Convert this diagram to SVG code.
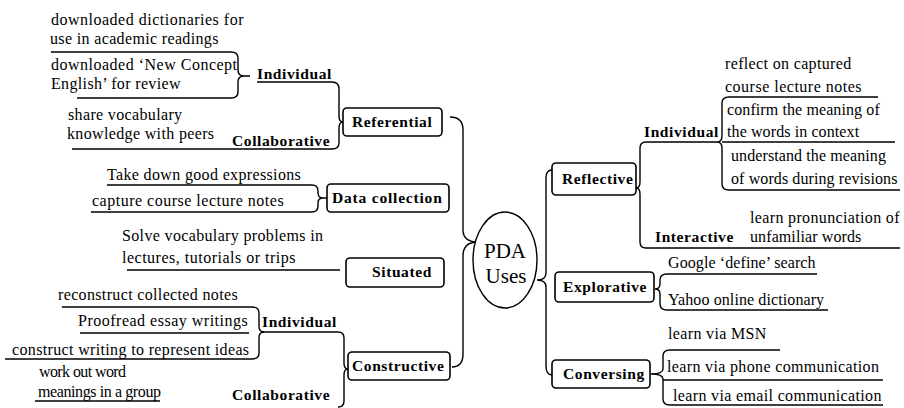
<svg xmlns="http://www.w3.org/2000/svg" width="904" height="408" viewBox="0 0 904 408">
<style>
text{font-family:'Liberation Serif','Times New Roman',serif;fill:#000}
.t{font-size:16px;letter-spacing:0.35px}
.w{letter-spacing:0.5px}
.n{letter-spacing:0.1px}
.b{font-size:15.5px;font-weight:bold;letter-spacing:0.6px}
.c{font-size:21px}
.box{fill:#fff;stroke:#000;stroke-width:1.6}
.ln{fill:none;stroke:#000;stroke-width:1.4}
</style>
<rect width="904" height="408" fill="#fff"/>
<g id="connectors">
<path class="ln" d="M450,117 Q463,117 463,130 L463,230 Q463,241 476,242 Q463,243 463,256 L463,354 Q463,367 452,367"/>
<path class="ln" d="M552,170 Q546,170 546,178 L546,273 Q546,280 537,280 Q546,280 546,287 L546,366 Q546,375 552,375"/>
</g>
<g id="center">
<ellipse cx="505" cy="260" rx="32" ry="48" fill="#fff" stroke="#000" stroke-width="1.4"/>
<text class="c" x="505" y="258" text-anchor="middle">PDA</text>
<text class="c" x="506" y="283" text-anchor="middle">Uses</text>
</g>
<g id="referential">
<rect class="box" x="343" y="108" width="99" height="28" rx="4"/>
<text class="b" x="352" y="127">Referential</text>
<path class="ln" d="M257,82 L332,82 Q339,82 339,89 L339,116 Q339,122 343,122 Q339,122 339,128 L339,143 Q339,149 332,149 L72,149"/>
<text class="b" x="257" y="79">Individual</text>
<text class="b" x="232" y="146">Collaborative</text>
<path class="ln" d="M51,52 L231,52 Q238,52 238,58 L238,70 Q238,76 244,76 L250,76 M244,76 Q238,76 238,82 L238,92 Q238,98 231,98 L77,98"/>
<text class="t w" x="51" y="25">downloaded dictionaries for</text>
<text class="t" x="50" y="44">use in academic readings</text>
<text class="t w" x="51" y="70">downloaded ‘New Concept</text>
<text class="t" x="51" y="89">English’ for review</text>
<text class="t" x="68" y="120">share vocabulary</text>
<text class="t" x="67" y="139">knowledge with peers</text>
</g>
<g id="data-collection">
<rect class="box" x="327" y="184" width="122" height="28" rx="4"/>
<text class="b" x="332" y="203" style="letter-spacing:0.8px">Data collection</text>
<path class="ln" d="M107,185 L312,185 Q318,185 318,191 L318,193 Q318,198 323,198 L327,198 M323,198 Q318,198 318,203 L318,206 Q318,212 312,212 L91,212"/>
<text class="t" x="107" y="180">Take down good expressions</text>
<text class="t w" x="92" y="206">capture course lecture notes</text>
</g>
<g id="situated">
<rect class="box" x="346" y="258" width="98" height="29" rx="4"/>
<text class="b" x="372" y="277">Situated</text>
<path class="ln" d="M127,270 L340,270"/>
<text class="t" x="122" y="241">Solve vocabulary problems in</text>
<text class="t w" x="122" y="263">lectures, tutorials or trips</text>
</g>
<g id="constructive">
<rect class="box" x="348" y="352" width="102" height="28" rx="4"/>
<text class="b" x="352" y="371">Constructive</text>
<path class="ln" d="M262,332 L338,332 Q344,332 344,338 L344,363 Q344,369 348,369 Q344,369 344,375 L344,401 Q344,407 338,407"/>
<text class="b" x="262" y="327">Individual</text>
<text class="b" x="232" y="400">Collaborative</text>
<path class="ln" d="M62,307 L252,307 Q259,307 259,313 L259,326 Q259,332 264,332 M264,332 Q259,332 259,338 L259,353 Q259,359 252,359 L5,359"/>
<path class="ln" d="M80,333 L249,333"/>
<path class="ln" d="M35,401 L160,401"/>
<text class="t" x="58" y="300">reconstruct collected notes</text>
<text class="t w" x="78" y="326">Proofread essay writings</text>
<text class="t" x="12" y="355">construct writing to represent ideas</text>
<text class="t" x="39" y="377" style="letter-spacing:-0.6px">work out word</text>
<text class="t" x="38" y="397" style="letter-spacing:-0.4px">meanings in a group</text>
</g>
<g id="reflective">
<rect class="box" x="552" y="163" width="84" height="32" rx="4"/>
<text class="b" x="562" y="184">Reflective</text>
<path class="ln" d="M717,142 L646,142 Q640,142 640,148 L640,182 Q640,188 636,188 Q640,188 640,194 L640,242 Q640,248 646,248 L900,248"/>
<text class="b" x="644" y="137">Individual</text>
<text class="b" x="655" y="242">Interactive</text>
<path class="ln" d="M878,97 L729,97 Q722,97 722,103 L722,136 Q722,142 717,142 Q722,142 722,148 L722,184 Q722,190 729,190 L900,190 M722,142 L895,142"/>
<text class="t" x="725" y="69">reflect on captured</text>
<text class="t w" x="725" y="92">course lecture notes</text>
<text class="t n" x="727" y="115">confirm the meaning of</text>
<text class="t n" x="727" y="137">the words in context</text>
<text class="t n" x="731" y="161">understand the meaning</text>
<text class="t n" x="731" y="184">of words during revisions</text>
<text class="t" x="750" y="223">learn pronunciation of</text>
<text class="t n" x="750" y="242">unfamiliar words</text>
</g>
<g id="explorative">
<rect class="box" x="555" y="272" width="99" height="30" rx="4"/>
<text class="b" x="563" y="292">Explorative</text>
<path class="ln" d="M817,274 L667,274 Q660,274 660,280 L660,284 Q660,289 655,289 Q660,289 660,294 L660,304 Q660,310 667,310 L828,310"/>
<text class="t n" x="668" y="268">Google ‘define’ search</text>
<text class="t n" x="668" y="305">Yahoo online dictionary</text>
</g>
<g id="conversing">
<rect class="box" x="552" y="360" width="98" height="28" rx="4"/>
<text class="b" x="563" y="379">Conversing</text>
<path class="ln" d="M780,350 L670,350 Q663,350 663,356 L663,369 Q663,374 651,374 Q663,374 663,379 L663,399 Q663,405 670,405 L883,405 M663,380 L883,380"/>
<text class="t" x="668" y="339">learn via MSN</text>
<text class="t" x="667" y="372">learn via phone communication</text>
<text class="t" x="673" y="401">learn via email communication</text>
</g>
</svg>
